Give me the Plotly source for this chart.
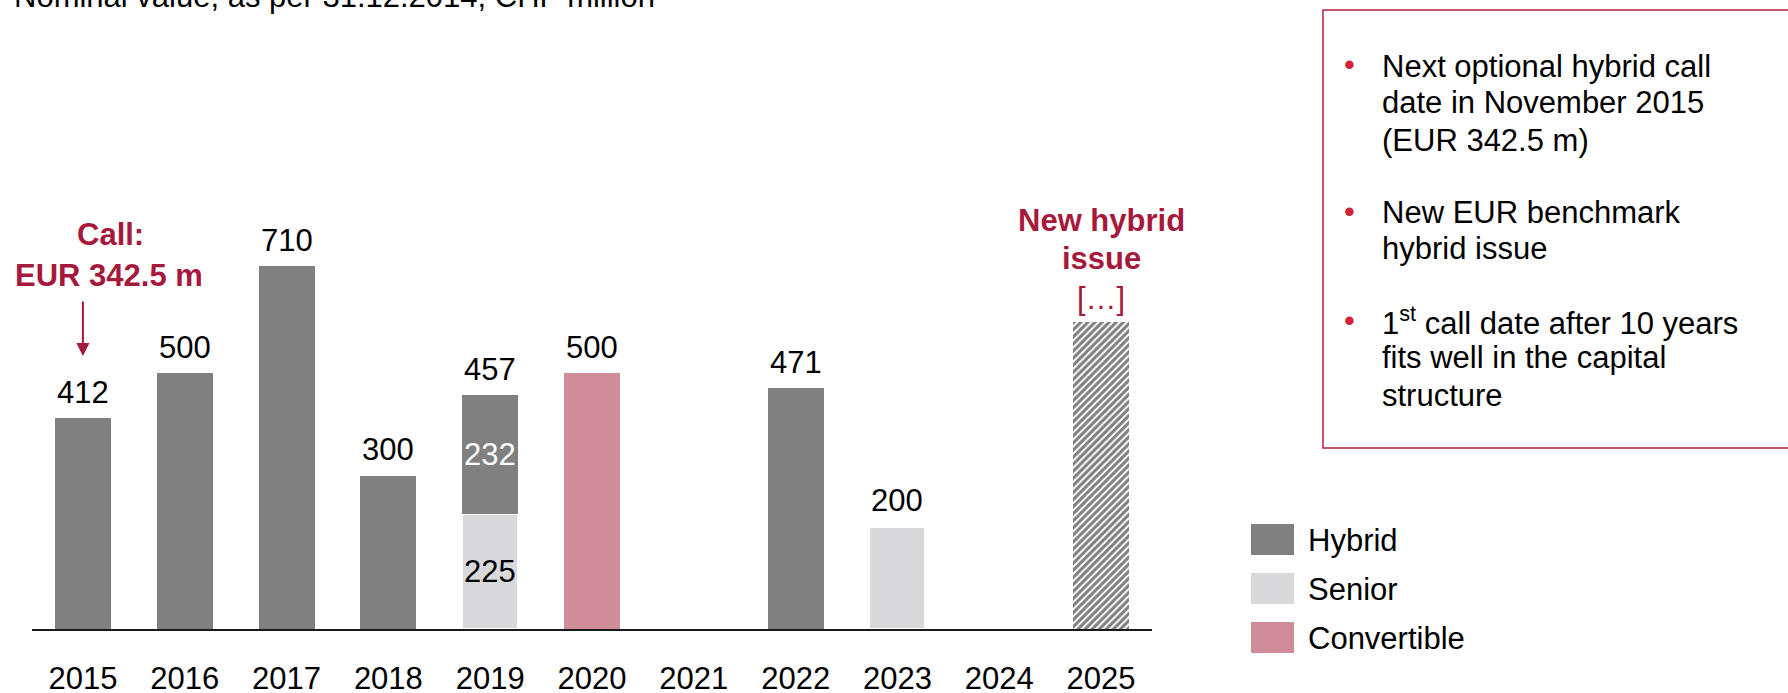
import plotly.graph_objects as go

# ---- data (CHF million, nominal) ----
years = ["2015", "2016", "2017", "2018", "2019", "2020", "2021", "2022", "2023", "2024", "2025"]
hybrid = [412, 500, 710, 300, 232, None, None, 471, None, None, None]
senior = [None, None, None, None, 225, None, None, None, 200, None, None]
convertible = [None, None, None, None, None, 500, None, None, None, None, None]
new_issue = [None, None, None, None, None, None, None, None, None, None, 600]

legend_names = ["Hybrid", "Senior", "Convertible"]
title_text = "Nominal value, as per 31.12.2014, CHF million"
bullets = [
    ["Next optional hybrid call", "date in November 2015", "(EUR 342.5 m)"],
    ["New EUR benchmark", "hybrid issue"],
    ["1<sup>st</sup> call date after 10 years", "fits well in the capital", "structure"],
]

# ---- styling ----
FONT = "Liberation Sans, Arial, sans-serif"
FS = 31
C_HYBRID = "#808080"
C_SENIOR = "#D9D9DB"
C_CONV = "#D08C99"
C_RED = "#A6193C"
C_BULLET = "#D2223A"
C_BOX = "#B0203F"

W, H = 1788, 693
PLOT_L, PLOT_R = 32, 1152          # plot area, pixels
BASE_Y, TOP_Y = 629, 169
YMAX = 900
PX_PER_UNIT = (BASE_Y - TOP_Y) / YMAX


def px(xp):
    return (xp - PLOT_L) / (PLOT_R - PLOT_L)


def py(yp):
    return (BASE_Y - yp) / (BASE_Y - TOP_Y)


fig = go.Figure()
fig.add_bar(x=years, y=senior, name="Senior", marker=dict(color=C_SENIOR, line=dict(color="white", width=2)))
fig.add_bar(x=years, y=hybrid, name="Hybrid", marker=dict(color=C_HYBRID, line=dict(width=0)))
fig.add_bar(x=years, y=convertible, name="Convertible", marker=dict(color=C_CONV, line=dict(width=0)))
fig.add_bar(
    x=years, y=new_issue, name="New hybrid issue",
    marker=dict(color="white", line=dict(width=0),
                pattern=dict(shape="/", fgcolor="black", bgcolor="white", size=5, solidity=0.6)),
)

annotations = []

# totals above bars (category index used as x position)
for i, yr in enumerate(years):
    parts = [v for v in (hybrid[i], senior[i], convertible[i]) if v is not None]
    if not parts:
        continue
    total = sum(parts)
    annotations.append(dict(x=i, y=total, xref="x", yref="y", text=str(total), showarrow=False,
                            xanchor="center", yanchor="middle", yshift=26,
                            font=dict(size=FS, color="black", family=FONT)))

# segment labels inside the stacked 2019 bar
i19 = years.index("2019")
annotations.append(dict(x=i19, y=senior[i19] / 2, xref="x", yref="y", text=str(senior[i19]),
                        showarrow=False, xanchor="center", yanchor="middle",
                        font=dict(size=FS, color="black", family=FONT)))
annotations.append(dict(x=i19, y=senior[i19] + hybrid[i19] / 2, xref="x", yref="y", text=str(hybrid[i19]),
                        showarrow=False, xanchor="center", yanchor="middle",
                        font=dict(size=FS, color="white", family=FONT)))

# call annotation on 2015
i15 = years.index("2015")
annotations.append(dict(x=px(110), y=py(235), xref="paper", yref="paper", text="<b>Call:</b>",
                        showarrow=False, xanchor="center", yanchor="middle",
                        font=dict(size=FS, color=C_RED, family=FONT)))
annotations.append(dict(x=px(109), y=py(275), xref="paper", yref="paper", text="<b>EUR 342.5 m</b>",
                        showarrow=False, xanchor="center", yanchor="middle",
                        font=dict(size=FS, color=C_RED, family=FONT)))
annotations.append(dict(x=i15, y=(BASE_Y - 356) / PX_PER_UNIT, xref="x", yref="y",
                        ax=i15, ay=(BASE_Y - 300) / PX_PER_UNIT, axref="x", ayref="y",
                        text="", showarrow=True, arrowhead=2, arrowsize=1.3, arrowwidth=2, arrowcolor=C_RED))

# new hybrid issue
i25 = years.index("2025")
annotations.append(dict(x=i25, y=py(220), xref="x", yref="paper", text="<b>New hybrid</b>",
                        showarrow=False, xanchor="center", yanchor="middle",
                        font=dict(size=FS, color=C_RED, family=FONT)))
annotations.append(dict(x=i25, y=py(258), xref="x", yref="paper", text="<b>issue</b>",
                        showarrow=False, xanchor="center", yanchor="middle",
                        font=dict(size=FS, color=C_RED, family=FONT)))
annotations.append(dict(x=i25, y=new_issue[i25], xref="x", yref="y", text="[…]", showarrow=False,
                        xanchor="center", yanchor="middle", yshift=24,
                        font=dict(size=FS, color=C_RED, family=FONT)))

# title line at the top
annotations.append(dict(x=px(12), y=py(-3), xref="paper", yref="paper", text=title_text, showarrow=False,
                        xanchor="left", yanchor="middle", font=dict(size=FS, color="black", family=FONT)))

shapes = []

# legend
legend_colors = [C_HYBRID, C_SENIOR, C_CONV]
for k, (name, col) in enumerate(zip(legend_names, legend_colors)):
    top = 524 + 49 * k
    shapes.append(dict(type="rect", xref="paper", yref="paper", x0=px(1251), x1=px(1294),
                       y0=py(top + 31), y1=py(top), fillcolor=col, line=dict(width=0)))
    annotations.append(dict(x=px(1306), y=py(top + 16), xref="paper", yref="paper", text=name,
                            showarrow=False, xanchor="left", yanchor="middle",
                            font=dict(size=FS, color="black", family=FONT)))

# bullet box
shapes.append(dict(type="rect", xref="paper", yref="paper", x0=px(1323), x1=px(1810),
                   y0=py(448), y1=py(10), line=dict(color=C_BOX, width=1.5), fillcolor="rgba(0,0,0,0)"))
line_ys = [[66, 103, 140], [212, 248], [321, 357, 395]]
for lines, ys in zip(bullets, line_ys):
    annotations.append(dict(x=px(1349), y=py(ys[0] - 1), xref="paper", yref="paper", text="•",
                            showarrow=False, xanchor="center", yanchor="middle",
                            font=dict(size=FS, color=C_BULLET, family=FONT)))
    for t, yv in zip(lines, ys):
        annotations.append(dict(x=px(1380), y=py(yv), xref="paper", yref="paper", text=t,
                                showarrow=False, xanchor="left", yanchor="middle",
                                font=dict(size=FS, color="black", family=FONT)))

fig.update_layout(
    width=W, height=H,
    margin=dict(l=PLOT_L, r=W - PLOT_R, t=TOP_Y, b=H - BASE_Y, pad=0, autoexpand=False),
    barmode="stack", bargap=0.45,
    paper_bgcolor="white", plot_bgcolor="white",
    showlegend=False,
    font=dict(family=FONT, size=FS, color="black"),
    xaxis=dict(type="category", range=[-0.5, 10.5], showgrid=False, zeroline=False, automargin=False,
               showline=True, linecolor="#1a1a1a", linewidth=2, ticks="",
               ticklabelstandoff=21, tickfont=dict(size=FS, color="black", family=FONT)),
    yaxis=dict(range=[0, YMAX], visible=False, showgrid=False, zeroline=False, automargin=False),
    annotations=annotations,
    shapes=shapes,
)

fig.write_html("out.html")
